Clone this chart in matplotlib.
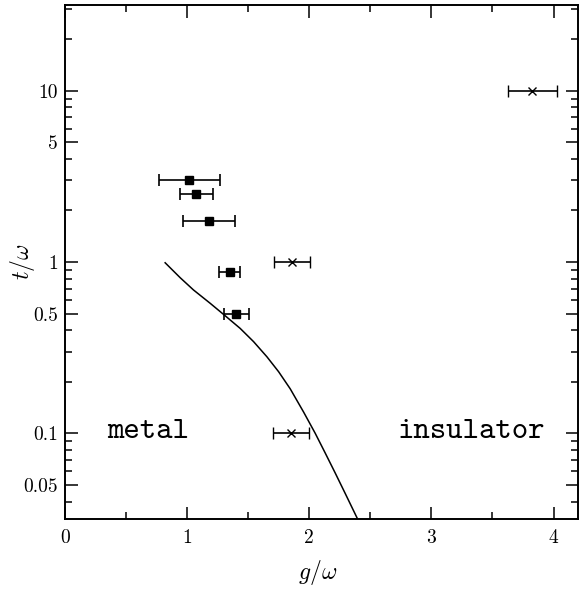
import matplotlib
matplotlib.use("Agg")
import matplotlib.pyplot as plt
from matplotlib.ticker import FixedLocator, LogLocator, MultipleLocator, NullFormatter

plt.rcParams['font.family'] = ['cmr10', 'DejaVu Sans']
plt.rcParams['mathtext.fontset'] = 'cm'
plt.rcParams['axes.unicode_minus'] = False

# Data (filled squares)
sq_g = [1.016, 1.074, 1.178, 1.347, 1.404]
sq_t = [3.0, 2.5, 1.73, 0.88, 0.5]
sq_err = [0.25, 0.135, 0.215, 0.085, 0.104]

# Crosses
cr_g = [1.86, 3.825, 1.852]
cr_t = [1.0, 10.0, 0.1]
cr_err = [0.15, 0.2, 0.15]

# Phase boundary curve
curve_g = [0.82, 0.943, 1.052, 1.189, 1.311, 1.434, 1.544, 1.653, 1.749, 1.844,
           1.954, 2.049, 2.131, 2.213, 2.295, 2.396]
curve_t = [0.99, 0.81, 0.687, 0.574, 0.486, 0.410, 0.343, 0.280, 0.229, 0.182,
           0.133, 0.100, 0.0767, 0.0586, 0.0445, 0.0316]

xticks = [0, 1, 2, 3, 4]
xticklabels = ['0', '1', '2', '3', '4']
yticks = [0.05, 0.1, 0.5, 1, 5, 10]
yticklabels = ['0.05', '0.1', '0.5', '1', '5', '10']

fig = plt.figure(figsize=(5.82, 5.91), dpi=100)
ax = fig.add_axes([0.1117, 0.1218, 0.8813, 0.8697])

ax.plot(curve_g, curve_t, color='black', lw=1.1)
ax.errorbar(sq_g, sq_t, xerr=sq_err, fmt='s', color='black', ms=5.8,
            elinewidth=1.2, capsize=4.2, capthick=1.2)
ax.errorbar(cr_g, cr_t, xerr=cr_err, fmt='x', color='black', ms=6, mew=1.0,
            elinewidth=1.2, capsize=4.2, capthick=1.2)

ax.set_yscale('log')
ax.set_xlim(0, 4.2)
ax.set_ylim(10**-1.5, 10**1.5)

ax.xaxis.set_major_locator(FixedLocator(xticks))
ax.set_xticklabels(xticklabels)
ax.xaxis.set_minor_locator(MultipleLocator(0.5))
ax.yaxis.set_major_locator(FixedLocator(yticks))
ax.set_yticklabels(yticklabels)
ax.yaxis.set_minor_locator(LogLocator(base=10, subs=[1, 2, 3, 4, 5, 6, 7, 8, 9]))
ax.yaxis.set_minor_formatter(NullFormatter())

ax.tick_params(which='both', direction='in', top=True, right=True, width=1.1, labelsize=14)
ax.tick_params(which='major', length=9)
ax.tick_params(which='minor', length=5)
ax.tick_params(axis='x', which='major', pad=7)
ax.tick_params(axis='y', which='major', pad=5)
for s in ax.spines.values():
    s.set_linewidth(1.4)

ax.set_xlabel(r'$g/\omega$', fontsize=17, va='center', ha='center')
ax.set_ylabel(r'$t/\omega$', fontsize=17, va='center', ha='center')
ax.xaxis.set_label_coords(0.492, -0.105)
ax.yaxis.set_label_coords(-0.082, 0.5)

ax.text(0.684, 0.094, 'metal', fontname='cmtt10', fontsize=22.5, ha='center', va='baseline')
ax.text(3.33, 0.094, 'insulator', fontname='cmtt10', fontsize=22.5, ha='center', va='baseline')

fig.savefig('out.png', dpi=100)
